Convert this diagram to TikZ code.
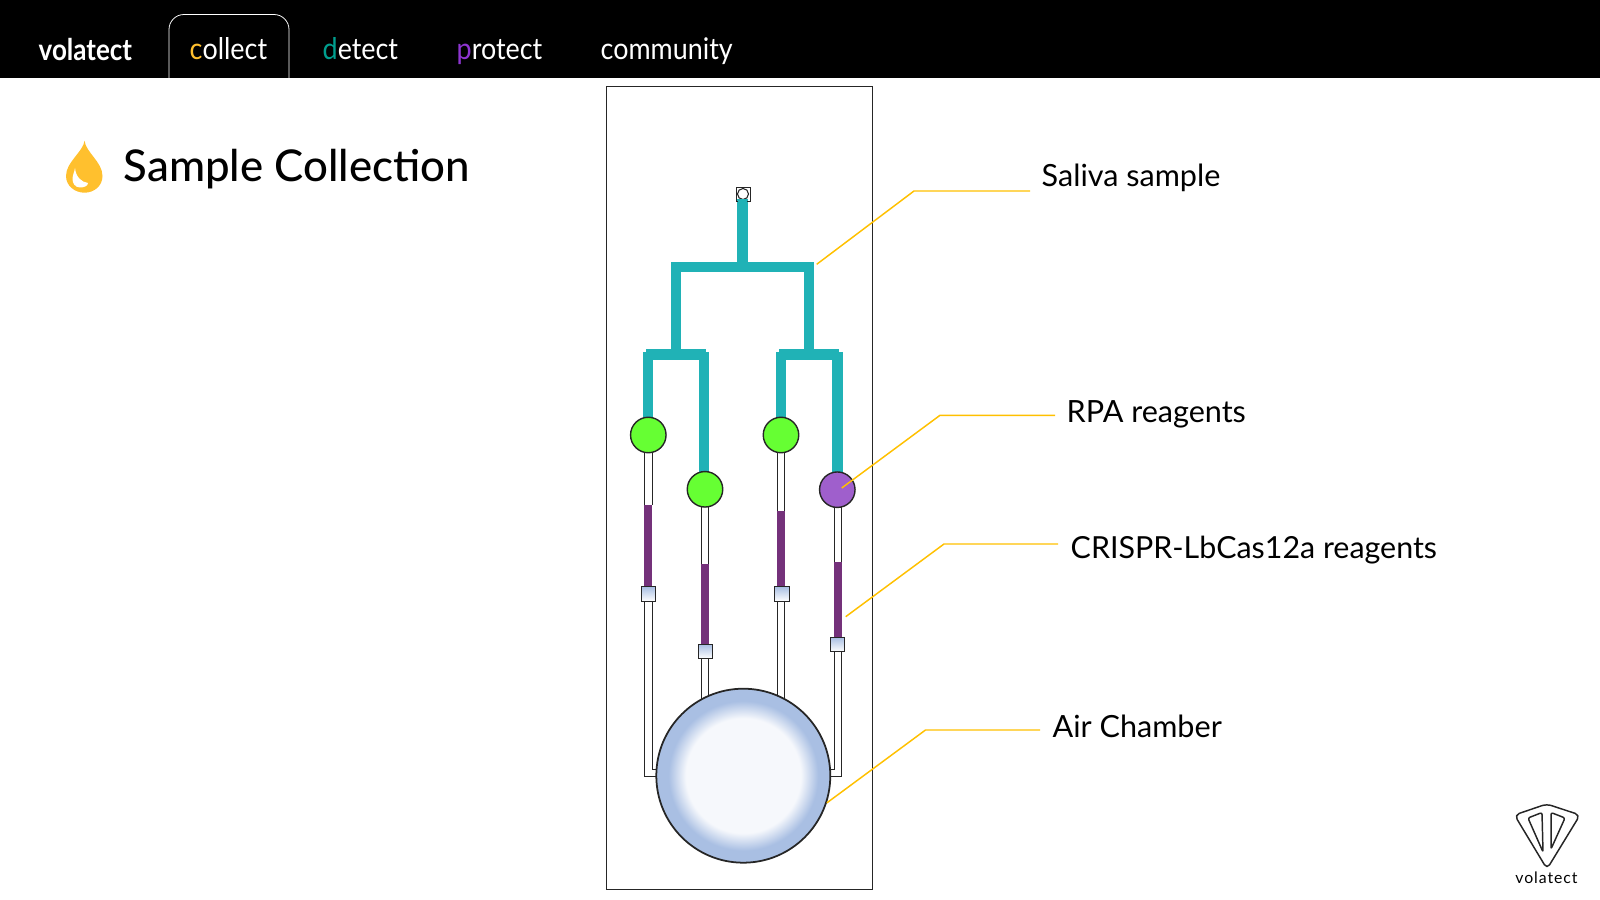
\documentclass[tikz,border=0pt]{standalone}
\usepackage{fontspec}
\setmainfont{Lato}
\newfontfamily\medfont{Lato Medium}
\usepackage{xcolor}
\usetikzlibrary{positioning,calc}
\definecolor{chan}{HTML}{20B2B6}
\definecolor{purp}{HTML}{74317A}
\definecolor{gold}{HTML}{FFC000}
\definecolor{leaf}{HTML}{66FF33}
\definecolor{viol}{HTML}{9F5FCC}
\definecolor{iceb}{HTML}{A9BFE3}
\definecolor{icew}{HTML}{F6F8FC}
\definecolor{dropc}{HTML}{FFC02E}
\definecolor{detc}{HTML}{009E8E}
\definecolor{proc}{HTML}{8E35D0}
\pgfdeclareradialshading{chambershade}{\pgfpointorigin}{color(0bp)=(icew);color(16.5bp)=(icew);color(21.5bp)=(iceb);color(50bp)=(iceb)}
\begin{document}
\begin{tikzpicture}[x=0.1mm,y=-0.1mm,
  navtext/.style={text=white,font=\fontsize{8.5pt}{10pt}\selectfont\addfontfeature{FakeStretch=0.9},inner sep=0pt,anchor=base west},
  lbl/.style={font=\fontsize{8.7pt}{10pt}\selectfont,inner sep=0pt,anchor=west},
  teal/.style={line width=1.05mm,draw=chan},
  rail/.style={draw=black!85,line width=0.25pt},
  leader/.style={draw=gold,line width=0.42pt},
  mix/.style={draw,circle,minimum size=3.55mm,inner sep=0pt,line width=0.4pt,draw=black!85},
  valve/.style={draw=black!85,rectangle,minimum size=1.43mm,inner sep=0pt,line width=0.3pt,top color=iceb,bottom color=white}]
\useasboundingbox (0,0) rectangle (1600,900);
\fill[black] (0,0) rectangle (1600,78);
% nav bar
\draw[white,line width=0.22pt,rounded corners=1.5mm] (169,78) -- (169,14.5) -- (289,14.5) -- (289,78);
\node[navtext,font=\bfseries\fontsize{8.5pt}{10pt}\selectfont\addfontfeature{FakeStretch=0.87}] (volatect) at (38,61) {volatect};
\node[navtext] (collect) at (189,59.5) {\textcolor{dropc}{c}ollect};
\node[navtext] (detect) at (322,59.5) {\textcolor{detc}{d}etect};
\node[navtext] (protect) at (456,59.5) {\textcolor{proc}{p}rotect};
\node[navtext] (community) at (600,59.5) {community};
% title
\fill[dropc] (84.6,140.7) .. controls (85.5,152) and (102.5,162) .. (102.5,176) .. controls (102.5,186) and (94,192.7) .. (84.5,192.7) .. controls (75,192.7) and (66,186) .. (66,176) .. controls (66,162) and (83,152) .. (84.6,140.7) -- cycle;
\fill[white] (75,168) .. controls (76,177) and (81,182) .. (88,183) .. controls (88,186) and (84,187.5) .. (80,187.5) .. controls (75,187.5) and (72.5,183) .. (72.5,179) .. controls (72.5,175) and (74.5,172) .. (75,168) -- cycle;
\node[inner sep=0pt,anchor=base west,font=\medfont\fontsize{12.45pt}{14pt}\selectfont] (title) at (123,182) {Sample Collection};
% chip
\draw[rail,line width=0.2pt] (606,86) rectangle (872.5,889);
\draw[teal] (742.5,199) -- (742.5,267);
\draw[teal] (676,355) |- (809,267) -- (809,355);
\draw[teal] (646,354.5) -- (706,354.5);
\draw[teal] (779,354.5) -- (839,354.5);
\draw[teal] (648,352) -- (648,420);
\draw[teal] (704,352) -- (704,475);
\draw[teal] (781,352) -- (781,420);
\draw[teal] (837.3,352) -- (837.3,475);
% white channels
\foreach \xa/\xb/\yt/\ya/\yb in {644.3/652/445/505/587,701.3/708.7/500/564/644.3,777/784.7/445/511/587.3,834.3/841.7/500/562/637.3}{
  \fill[purp] (\xa,\ya) rectangle (\xb,\yb);
  \draw[rail] (\xa,\yt) -- (\xa,\ya) (\xb,\yt) -- (\xb,\ya);
}
\draw[rail] (660,776.3) -| (644.3,600) (660,769.7) -| (652,600);
\draw[rail] (826,776.3) -| (841.7,650) (826,769.7) -| (834.3,650);
\draw[rail] (701.3,658) -- (701.3,700) (708.7,658) -- (708.7,700);
\draw[rail] (777,600) -- (777,700) (784.7,600) -- (784.7,700);
% port
\node[draw=black!85,rectangle,minimum size=1.44mm,inner sep=0pt,line width=0.3pt] (port) at (743.5,194.5) {};
\node[draw=black!85,fill=white,circle,minimum size=1.1mm,inner sep=0pt,line width=0.3pt] (inlet) at (743,194) {};
\fill[chan] (737.7,199) rectangle (747.3,203);
% reagent wells
\node[mix,fill=leaf] (wella) at (648.3,435) {};
\node[mix,fill=leaf] (wellb) at (705,489.3) {};
\node[mix,fill=leaf] (wellc) at (781,435) {};
\node[mix,fill=viol] (welld) at (837.3,489.7) {};
\node[valve] (valvea) at (648.5,594) {};
\node[valve] (valveb) at (705.5,651.5) {};
\node[valve] (valvec) at (782,594) {};
\node[valve] (valved) at (837.5,644.5) {};
\node[circle,minimum size=17.4mm,inner sep=0pt,draw=black!85,line width=0.5pt,shading=chambershade] (chamber) at (743.3,775.7) {};
% labels
\node[lbl] (saliva) at (1041,177.5) {Saliva sample};
\node[lbl] (rpa) at (1066,414) {RPA reagents};
\node[lbl,font=\fontsize{8.65pt}{10pt}\selectfont] (crispr) at (1070,550) {CRISPR-LbCas12a reagents};
\node[lbl] (air) at (1052,726.5) {Air Chamber};
\coordinate (salivaend) at (1030,191);
\coordinate (rpaend) at (1055,415.3);
\coordinate (crisprend) at (1058,544);
\coordinate (airend) at (1040,730);
\draw[leader] (816.7,264.3) -- (914,191) -- (salivaend);
\draw[leader] ($(welld)+(4.4,-1.7)$) -- (940,415.3) -- (rpaend);
\draw[leader] (845.7,616.7) -- (944,544) -- (crisprend);
\draw[leader] (chamber.-18) -- (925.5,730) -- (airend);
% logo
\begin{scope}[black!85,line width=0.42pt,line join=round]
\draw[rounded corners=0.5mm] (1546.7,804) -- (1580,815) -- (1547,869) -- (1514.5,815) -- cycle;
\draw[rounded corners=0.2mm] (1528,818) -- (1542,812.5) -- (1543,852) -- cycle;
\draw[rounded corners=0.2mm] (1551,812.5) -- (1565,818) -- (1551,849) -- cycle;
\end{scope}
\node[inner sep=0pt,font=\fontsize{4.5pt}{5pt}\selectfont] (logotext) at (1546.5,878) {\addfontfeature{LetterSpace=6}volatect};
\end{tikzpicture}
\end{document}
